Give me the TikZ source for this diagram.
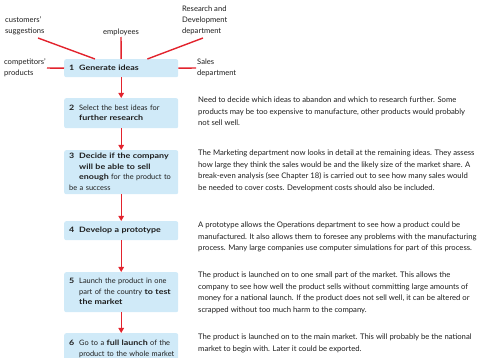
\documentclass[tikz,border=0pt]{standalone}
\usepackage{fontspec}
\setmainfont{Lato}[BoldFeatures={FakeStretch=1.2}]
\usetikzlibrary{arrows.meta}
\definecolor{boxblue}{RGB}{208,234,248}
\definecolor{linkred}{RGB}{226,35,45}
\definecolor{inkgray}{RGB}{30,30,30}
\tikzset{
  stagebox/.style={fill=boxblue,rounded corners=2pt,anchor=north west,inner xsep=5pt,inner ysep=0pt,
    text width=104pt,align=left,font=\fontsize{7.4}{10.6}\selectfont,text=inkgray},
  note/.style={anchor=north west,inner sep=0pt,align=left,font=\fontsize{7.7}{11.4}\selectfont,text=inkgray},
  source/.style={inner sep=1pt,align=left,font=\fontsize{7.6}{11}\selectfont,text=inkgray},
  feed/.style={draw=linkred,line width=1.4pt},
  flow/.style={feed,-{Triangle[length=5pt,width=5.5pt]}}
}
\newcommand{\stage}[2]{\begin{tabular}{@{}p{10pt}@{}l@{}}\textbf{#1}#2\end{tabular}}
\begin{document}
\begin{tikzpicture}[x=1pt,y=-1pt]
\path[use as bounding box] (0,0) rectangle (477,358);
\clip (0,0) rectangle (477,358);

% where ideas come from
\node[source,anchor=north west] (cust) at (4,15) {customers'\\suggestions};
\node[source,anchor=base] (emp) at (121,34.5) {employees};
\node[source,anchor=north west] (rd) at (181,5) {Research and\\Development\\department};
\node[source,anchor=east] (comp) at (47,68) {competitors'\\products};
\node[source,anchor=west] (sales) at (196,68) {Sales\\department};
\coordinate (custfoot) at (38,38);
\coordinate (rdfoot) at (203,38);

% the six stages
\node[stagebox,minimum height=18pt] (gen) at (64,59) {\stage{1}{&\textbf{Generate ideas}}};
\node[stagebox,minimum height=30pt] (select) at (64,98) {\stage{2}{&Select the best ideas for\\&\textbf{further research}}};
\node[stagebox,minimum height=44pt] (decide) at (64,150) {\stage{3}{&\textbf{Decide if the company}\\&\textbf{will be able to sell}\\&\textbf{enough} for the product to\\\multicolumn{2}{@{}l@{}}{be a success}}};
\node[stagebox,minimum height=19pt] (proto) at (64,221) {\stage{4}{&\textbf{Develop a prototype}}};
\node[stagebox,minimum height=40pt] (test) at (64,272) {\stage{5}{&Launch the product in one\\&part of the country \textbf{to test}\\&\textbf{the market}}};
\node[stagebox,minimum height=31pt] (full) at (64,333) {\stage{6}{&Go to a \textbf{full launch} of the\\&product to the whole market}};

\draw[feed] (custfoot) -- ([xshift=31pt]gen.north west);
\draw[feed] (emp) -- (gen);
\draw[feed] (rdfoot) -- ([xshift=-31pt]gen.north east);
\draw[feed] (comp) -- (gen);
\draw[feed] (gen) -- (sales);

\draw[flow] (gen) -- (select);
\draw[flow] (select) -- (decide);
\draw[flow] (decide) -- (proto);
\draw[flow] (proto) -- (test);
\draw[flow] (test) -- (full);

% explanations
\node[note] (why2) at (198,97) {Need to decide which ideas to abandon and which to research further. Some\\products may be too expensive to manufacture, other products would probably\\not sell well.};
\node[note] (why3) at (198,150) {The Marketing department now looks in detail at the remaining ideas. They assess\\how large they think the sales would be and the likely size of the market share. A\\break-even analysis (see Chapter 18) is carried out to see how many sales would\\be needed to cover costs. Development costs should also be included.};
\node[note] (why4) at (198,222) {A prototype allows the Operations department to see how a product could be\\manufactured. It also allows them to foresee any problems with the manufacturing\\process. Many large companies use computer simulations for part of this process.};
\node[note] (why5) at (198,272) {The product is launched on to one small part of the market. This allows the\\company to see how well the product sells without committing large amounts of\\money for a national launch. If the product does not sell well, it can be altered or\\scrapped without too much harm to the company.};
\node[note] (why6) at (198,334) {The product is launched on to the main market. This will probably be the national\\market to begin with. Later it could be exported.};
\end{tikzpicture}
\end{document}
